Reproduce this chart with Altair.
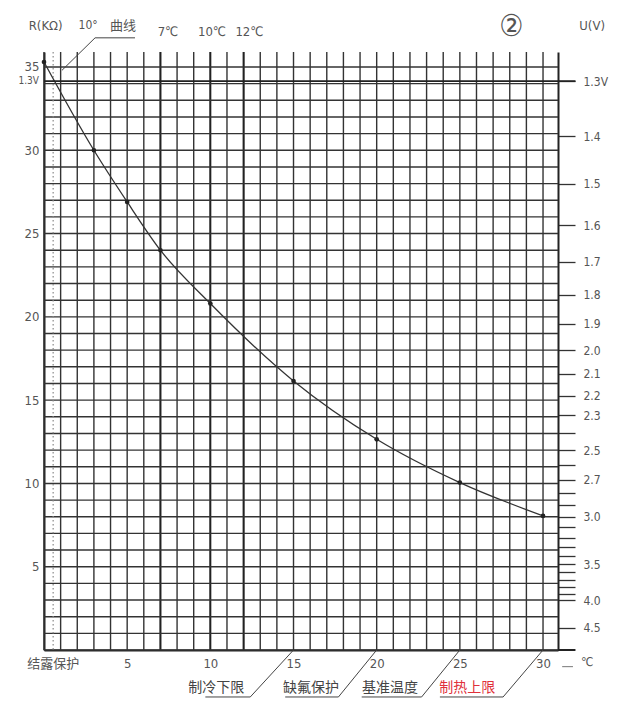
import altair as alt
import pandas as pd

# ---------------- data ----------------
TEMP = [0, 3, 5, 7, 10, 15, 20, 25, 30]                       # °C
RES = [35.3, 30.0, 26.9, 24.0, 20.8, 16.15, 12.65, 10.05, 8.05]  # kΩ

X_GRID = list(range(0, 31))
X_BOLD = [7, 10, 12]
Y_GRID = list(range(0, 36))
X_LABELS = [5, 10, 15, 20, 25, 30]
Y_LABELS = [5, 10, 15, 20, 25, 30, 35]

U_TICKS = [1.3, 1.4, 1.5, 1.6, 1.7, 1.8, 1.9, 2.0, 2.1, 2.2, 2.3, 2.4, 2.5, 2.6,
           2.7, 2.8, 2.9, 3.0, 3.1, 3.2, 3.3, 3.4, 3.5, 3.6, 3.7, 3.8, 3.9, 4.0, 4.5]
U_LABELED = [1.3, 1.4, 1.5, 1.6, 1.7, 1.8, 1.9, 2.0, 2.1, 2.2, 2.3, 2.5, 2.7,
             3.0, 3.5, 4.0, 4.5]
VCC = 5.0      # supply voltage
RS = 12.0      # divider resistor, kΩ
U_LINE = 1.3
DEW_T = 0.55

X_MAX = 30.9
Y_MAX = 35.9
X_EXT = 31.95

TOP_TEXT = ["R(KΩ)", "10°", "曲线", "7℃", "10℃", "12℃", "②", "U(V)"]
TOP_T = [0.1, 2.65, 4.75, 7.45, 10.1, 12.35, 28.1, 32.95]
TOP_R = [37.45, 37.5, 37.45, 37.1, 37.1, 37.1, 37.4, 37.45]
TOP_SIZE = [13, 12, 13, 13, 13, 13, 30, 13]

NOTE_TEXT = ["制冷下限", "缺氟保护", "基准温度", "制热上限"]
NOTE_T = [10.35, 16.05, 20.8, 25.45]
NOTE_U0 = [9.7, 14.5, 19.1, 23.8]
NOTE_U1 = [12.4, 17.7, 22.7, 27.6]
NOTE_TARGET = [15, 20, 25, 30]
NOTE_COLOR = ["#444444", "#444444", "#444444", "#e0303a"]
NOTE_R = -2.3
NOTE_LINE_R = -2.82

# ---------------- styles ----------------
FONT = "Liberation Sans Narrow, DejaVu Sans Condensed, Noto Sans CJK SC, sans-serif"
CJK = "Noto Sans CJK SC"
GRID_C = "#333333"
TXT_C = "#555555"

XS = alt.Scale(domain=[0, X_MAX], nice=False, zero=False)
YS = alt.Scale(domain=[0, Y_MAX], nice=False, zero=False)

XAX = alt.Axis(values=X_LABELS, ticks=False, grid=False, domainColor="#222",
               domainWidth=2, labelFont=FONT, labelFontSize=13, labelColor=TXT_C,
               labelPadding=7, labelFlush=False, labelOverlap=False, title=None)
YAX = alt.Axis(values=Y_LABELS, ticks=False, grid=False, domainColor="#222",
               domainWidth=2, labelFont=FONT, labelFontSize=13, labelColor=TXT_C,
               labelPadding=5, labelFlush=False, labelOverlap=False, title=None)

u_expr = f"round(10*{VCC*RS}/(datum.value+{RS}))/10"
lab_list = "[" + ",".join(str(u) for u in U_LABELED) + "]"
RAX = alt.Axis(
    orient="right",
    values=[VCC * RS / u - RS for u in U_TICKS],
    grid=False, ticks=True, tickSize=17, tickColor="#333", tickWidth=1.3,
    domainColor="#222", domainWidth=2,
    labelFont=FONT, labelFontSize=12, labelColor=TXT_C, labelPadding=8,
    labelFlush=False, labelOverlap=False, labelBound=False, title=None,
    labelExpr=(f"indexof({lab_list}, {u_expr}) >= 0 ? "
               f"({u_expr} == 1.3 ? '1.3V' : format({u_expr}, '.1f')) : ''"),
)


def X(f="T"):
    return alt.X(f"{f}:Q", scale=XS, axis=XAX)


def Y(f="R"):
    return alt.Y(f"{f}:Q", scale=YS, axis=YAX)


# ---------------- layers ----------------
vgrid = alt.Chart(pd.DataFrame({"T": X_GRID})).mark_rule(
    color=GRID_C, strokeWidth=1.4).encode(x=X())
vbold = alt.Chart(pd.DataFrame({"T": X_BOLD})).mark_rule(
    color="#222", strokeWidth=1.9).encode(x=X())
hgrid = alt.Chart(pd.DataFrame({"R": Y_GRID})).mark_rule(
    color=GRID_C, strokeWidth=1.4).encode(y=Y())

dew = alt.Chart(pd.DataFrame({"T": [DEW_T]})).mark_rule(
    color="#888", strokeWidth=1.2, strokeDash=[1.5, 2.5]).encode(x=X())

bottom_ext = alt.Chart(pd.DataFrame({"T": [X_MAX], "T2": [X_EXT], "R": [0]})).mark_rule(
    color="#222", strokeWidth=2).encode(x=X(), x2="T2:Q", y=Y())

curve_df = pd.DataFrame({"T": TEMP, "R": RES})
curve = alt.Chart(curve_df).mark_line(
    color="#333", strokeWidth=1.3, interpolate="monotone").encode(x=X(), y=Y())
points = alt.Chart(curve_df).mark_circle(
    size=22, color="#222", opacity=1).encode(x=X(), y=Y())

top_df = pd.DataFrame({"T": TOP_T, "R": TOP_R, "text": TOP_TEXT, "fs": TOP_SIZE})
top_text = alt.Chart(top_df).mark_text(
    font=FONT, color=TXT_C, baseline="middle", align="center").encode(
    x=X(), y=Y(), text="text:N", size=alt.Size("fs:Q", scale=None))

# leader for "10° 曲线"
lead_df = pd.DataFrame({"T": [3.07, 3.07], "T2": [5.47, 1.08],
                        "R": [36.75, 36.75], "R2": [36.75, 34.8]})
lead = alt.Chart(lead_df).mark_rule(color="#444", strokeWidth=1).encode(
    x=X(), x2="T2:Q", y=Y(), y2="R2:Q")

left_lab = alt.Chart(pd.DataFrame({"T": [-0.3], "R": [34.15], "text": ["1.3V"]})).mark_text(
    font=FONT, fontSize=10, color=TXT_C, align="right", baseline="middle").encode(
    x=X(), y=Y(), text="text:N")

dew_lab = alt.Chart(pd.DataFrame({"T": [DEW_T], "R": [-0.85], "text": ["结露保护"]})).mark_text(
    font=CJK, fontSize=13, color=TXT_C, align="center", baseline="middle").encode(
    x=X(), y=Y(), text="text:N")

deg_lab = alt.Chart(pd.DataFrame({"T": [32.65], "R": [-0.75], "text": ["℃"]})).mark_text(
    font=FONT, fontSize=12, color=TXT_C, align="center", baseline="middle").encode(
    x=X(), y=Y(), text="text:N")
deg_dash = alt.Chart(pd.DataFrame({"T": [31.15], "T2": [31.8], "R": [-1.0]})).mark_rule(
    color="#777", strokeWidth=1).encode(x=X(), x2="T2:Q", y=Y())

note_df = pd.DataFrame({"T": NOTE_T, "R": [NOTE_R] * 4, "text": NOTE_TEXT, "col": NOTE_COLOR})
notes = alt.Chart(note_df).mark_text(
    font=CJK, fontSize=14, align="center", baseline="middle").encode(
    x=X(), y=Y(), text="text:N", color=alt.Color("col:N", scale=None))

uline_df = pd.DataFrame({"T": NOTE_U0, "T2": NOTE_U1, "R": [NOTE_LINE_R] * 4})
ulines = alt.Chart(uline_df).mark_rule(color="#444", strokeWidth=1).encode(
    x=X(), x2="T2:Q", y=Y())
leader_df = pd.DataFrame({"T": NOTE_U1, "T2": NOTE_TARGET,
                          "R": [NOTE_LINE_R] * 4, "R2": [0] * 4})
leaders = alt.Chart(leader_df).mark_rule(color="#444", strokeWidth=1).encode(
    x=X(), x2="T2:Q", y=Y(), y2="R2:Q")

main = alt.layer(vgrid, vbold, hgrid, dew, bottom_ext, curve, points, top_text,
                 lead, left_lab, dew_lab, deg_lab, deg_dash, notes, ulines, leaders)

# right voltage axis + 1.3V line
uline = alt.Chart(pd.DataFrame({"U": [U_LINE], "T": [0], "T2": [X_EXT]})).transform_calculate(
    R=f"{VCC*RS}/datum.U - {RS}"
).mark_rule(color="#222", strokeWidth=1.6).encode(
    x=X(), x2="T2:Q", y=alt.Y("R:Q", scale=YS, axis=RAX))

chart = alt.layer(main, uline).resolve_scale(y="independent").properties(
    width=514, height=598,
    padding={"left": 36, "top": 44, "right": 62, "bottom": 58},
    autosize=alt.AutoSizeParams(type="none"),
    background="white",
).configure_view(stroke=None)

chart.save("out.html", embed_options={"renderer": "svg", "actions": False})
